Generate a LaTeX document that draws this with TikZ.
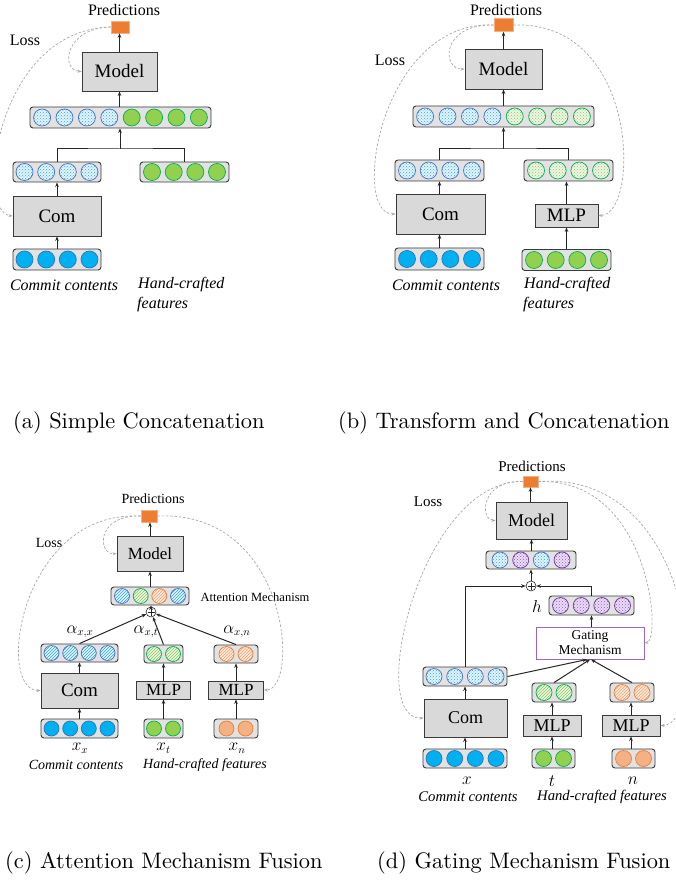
\documentclass[tikz,border=0pt]{standalone}
\usepackage{fontspec}
\newfontfamily\tnr{Liberation Serif}
\newfontfamily\capfont{lmroman10-regular.otf}
\usetikzlibrary{arrows.meta,patterns}
\definecolor{vfill}{HTML}{E2E2E2}
\definecolor{vborder}{HTML}{3A3A3A}
\definecolor{bfill}{HTML}{D9D9D9}
\definecolor{bborder}{HTML}{3A3A3A}
\definecolor{cbfill}{HTML}{00B0F0}
\definecolor{cbbd}{HTML}{2E75B6}
\definecolor{cgfill}{HTML}{92D050}
\definecolor{cgbd}{HTML}{00B050}
\definecolor{cofill}{HTML}{F4B183}
\definecolor{cobd}{HTML}{ED7D31}
\definecolor{dbbg}{HTML}{E3F4FC}
\definecolor{dbpat}{HTML}{2FA8E0}
\definecolor{dbbd}{HTML}{4472C4}
\definecolor{dgbg}{HTML}{EEF6E6}
\definecolor{dgpat}{HTML}{8CC65A}
\definecolor{obg}{HTML}{FCEDE2}
\definecolor{opat}{HTML}{F4A070}
\definecolor{pbg}{HTML}{EADDF5}
\definecolor{ppat}{HTML}{8E5CC4}
\definecolor{pbd}{HTML}{7030A0}
\definecolor{gatebd}{HTML}{9966CC}
\definecolor{porange}{HTML}{ED7D31}
\definecolor{porbd}{HTML}{F4B183}
\definecolor{lgray}{HTML}{A8A8A8}
\newcommand{\vrow}[7]{%
  \node[vec, minimum width=#4pt, minimum height=#5pt] (#1) at (#2,#3) {};
  \foreach \xx/\ss [count=\ii] in {#7}
    \node[cir=#6pt, style/.expanded=\ss] (#1-\ii) at (\xx,#3) {};
}
\begin{document}
\begin{tikzpicture}[x=1pt,y=-1pt,
  vec/.style={draw=vborder, fill=vfill, rounded corners=3pt, line width=0.9pt, inner sep=0pt},
  box/.style={draw=bborder, fill=bfill, line width=0.9pt, inner sep=0pt, font=\tnr\fontsize{#1}{#1}\selectfont},
  box/.default=19,
  cir/.style={circle, inner sep=0pt, minimum size=#1, line width=0.7pt},
  cb/.style={fill=cbfill, draw=cbbd},
  cg/.style={fill=cgfill, draw=cgbd},
  co/.style={fill=cofill, draw=cobd},
  db/.style={draw=dbbd, preaction={fill=dbbg}, pattern=crosshatch dots, pattern color=dbpat},
  dg/.style={draw=cgbd, preaction={fill=dgbg}, pattern=crosshatch dots, pattern color=dgpat},
  hb/.style={draw=dbbd, preaction={fill=dbbg}, pattern=north east lines, pattern color=dbpat},
  hg/.style={draw=cgbd, preaction={fill=dgbg}, pattern=north east lines, pattern color=dgpat},
  ho/.style={draw=cobd, preaction={fill=obg}, pattern=north east lines, pattern color=opat},
  hp/.style={draw=pbd, preaction={fill=pbg}, pattern=crosshatch dots, pattern color=ppat},
  pred/.style={fill=porange, draw=porbd, line width=0.6pt, inner sep=0pt},
  arr/.style={-{Stealth[length=4.5pt,width=3.6pt]}, line width=1pt, draw=black!85},
  ln/.style={line width=1pt, draw=black!85},
  loss/.style={draw=lgray, line width=0.7pt, dash pattern=on 2.5pt off 1.8pt, -{Stealth[length=4pt,width=3pt]}},
  txt/.style={font=\tnr\fontsize{#1}{#1}\selectfont, inner sep=0pt},
  itx/.style={font=\tnr\itshape\fontsize{#1}{#1}\selectfont, inner sep=0pt},
  mth/.style={font=\fontsize{#1}{#1}\selectfont, inner sep=0pt},
  captxt/.style={font=\capfont\fontsize{22.4}{24}\selectfont, inner sep=0pt, anchor=base west},
  oplus/.style={circle, draw=black!85, fill=white, line width=0.6pt, inner sep=0pt, minimum size=10pt,
    path picture={\draw[line width=0.6pt] ([yshift=-1.5pt]path picture bounding box.north) -- ([yshift=1.5pt]path picture bounding box.south) ([xshift=1.5pt]path picture bounding box.west) -- ([xshift=-1.5pt]path picture bounding box.east);}}
]
\useasboundingbox (0,0) rectangle (675,882);

% ================= (a) =================
\node[txt=16] (pa) at (124,10) {Predictions};
\node[pred, minimum width=18pt, minimum height=12pt] (ra) at (120,27) {};
\node[box, minimum width=75pt, minimum height=39pt] (mda) at (119.5,71.5) {Model};
\vrow{cca}{120.5}{117.5}{181}{21}{17}{42.1/db,64.5/db,86.9/db,109.3/db,131.7/cg,154.1/cg,176.5/cg,198.9/cg}
\vrow{lva}{57}{172}{88}{20}{17}{24.5/db,46.2/db,67.8/db,89.5/db}
\vrow{rva}{184.5}{172}{89}{20}{17}{152/cg,173.7/cg,195.3/cg,217/cg}
\node[box, minimum width=88pt, minimum height=40pt] (coma) at (57,216) {Com};
\vrow{ina}{57}{259.5}{88}{21}{17}{24.5/cb,46.2/cb,67.8/cb,89.5/cb}
\node[itx=16] (ta1) at (64,285) {Commit contents};
\node[itx=16, anchor=west] (ta2) at (138,285) {Hand-crafted};
\node[itx=16, anchor=west] (ta3) at (137,305) {features};
\node[txt=16] (la) at (25,40) {Loss};
\coordinate (ja) at (120,149);
\draw[arr] (ina.north) -- (coma.south);
\draw[arr] (coma.north) -- (lva.south);
\draw[ln] (lva.north) |- (ja) -| (rva.north);
\draw[arr] (ja) -- (ja |- cca.south);
\draw[arr] (cca.north -| mda.south) -- (mda.south);
\draw[arr] (mda.north) -- (mda.north |- ra.south);
\draw[loss] (ra.west) .. controls (65,28) and (60,70) .. (mda.west);
\draw[loss] (ra.west) .. controls (-5,30) and (-25,212) .. (coma.west);

% ================= (b) =================
\node[txt=16] (pb) at (506,10) {Predictions};
\node[pred, minimum width=19pt, minimum height=13pt] (rb) at (503.5,25) {};
\node[box, minimum width=77pt, minimum height=40pt] (mdb) at (503.5,69) {Model};
\vrow{ccb}{503.5}{116.5}{181}{21}{17}{425.1/db,447.5/db,469.9/db,492.3/db,514.7/dg,537.1/dg,559.5/dg,581.9/dg}
\vrow{lvb}{439.5}{170.5}{89}{21}{17}{407/db,428.7/db,450.3/db,472/db}
\vrow{rvb}{568.5}{170.5}{89}{21}{17}{536/dg,557.7/dg,579.3/dg,601/dg}
\node[box, minimum width=89pt, minimum height=40pt] (comb) at (440.5,214) {Com};
\node[box, minimum width=63pt, minimum height=23pt] (mlpb) at (566.5,215.5) {MLP};
\vrow{inb1}{439.5}{259}{89}{22}{17}{407/cb,428.7/cb,450.3/cb,472/cb}
\vrow{inb2}{566.5}{260}{89}{21}{17}{534/cg,555.7/cg,577.3/cg,599/cg}
\node[itx=16] (tb1) at (446,285) {Commit contents};
\node[itx=16, anchor=west] (tb2) at (524,285) {Hand-crafted};
\node[itx=16, anchor=west] (tb3) at (523,305) {features};
\node[txt=16] (lb) at (390,60) {Loss};
\coordinate (jb) at (503.5,149);
\draw[arr] (inb1.north) -- (inb1.north |- comb.south);
\draw[arr] (comb.north -| lvb.south) -- (lvb.south);
\draw[arr] (inb2.north) -- (mlpb.south);
\draw[arr] (mlpb.north) -- (mlpb.north |- rvb.south);
\draw[ln] (lvb.north) |- (jb) -| (rvb.north);
\draw[arr] (jb) -- (ccb.south);
\draw[arr] (ccb.north) -- (mdb.south);
\draw[arr] (mdb.north) -- (rb.south);
\draw[loss] (rb.west) .. controls (440,24) and (442,70) .. (mdb.west);
\draw[loss] (rb.west) .. controls (380,20) and (350,215) .. (comb.west);
\draw[loss] (rb.east) .. controls (640,20) and (640,215) .. (mlpb.east);

% ================= (c) =================
\node[txt=14] (pc) at (153,499) {Predictions};
\node[pred, minimum width=16pt, minimum height=12pt] (rc) at (149,516) {};
\node[box=17, minimum width=66pt, minimum height=35pt] (mdc) at (150,553.5) {Model};
\vrow{atc}{150}{596}{78}{18}{15}{122/hb,140.7/hg,159.3/ho,178/hb}
\node[txt=12.5] (amc) at (255,597) {Attention Mechanism};
\node[oplus] (plc) at (151,612) {};
\vrow{lvc}{79.5}{653}{77}{18}{15}{51.5/hb,70.2/hb,88.8/hb,107.5/hb}
\vrow{mvc}{163.5}{654}{39}{18}{15}{154/hg,173/hg}
\vrow{rvc}{236}{654}{44}{18}{15}{226.5/ho,245.5/ho}
\node[box=19, minimum width=77pt, minimum height=35pt] (comc) at (79.5,690.5) {Com};
\node[box=17, minimum width=54pt, minimum height=18pt] (mlpc1) at (163.5,690) {MLP};
\node[box=17, minimum width=55pt, minimum height=18pt] (mlpc2) at (236,690) {MLP};
\vrow{inc1}{79.5}{728.5}{77}{19}{15}{51.5/cb,70.2/cb,88.8/cb,107.5/cb}
\vrow{inc2}{163.5}{728.5}{39}{19}{15}{154/cg,173/cg}
\vrow{inc3}{236}{728.5}{44}{19}{15}{226.5/co,245.5/co}
\node[mth=16] (xc1) at (80,748) {$x_x$};
\node[mth=16] (xc2) at (163.5,748) {$x_t$};
\node[mth=16] (xc3) at (237,748) {$x_n$};
\node[itx=14] (tc1) at (76,765) {Commit contents};
\node[itx=14] (tc2) at (205,765) {Hand-crafted features};
\node[mth=16] (ac1) at (80,632) {$\alpha_{x,x}$};
\node[mth=16] (ac2) at (146,632) {$\alpha_{x,t}$};
\node[mth=16] (ac3) at (237,632) {$\alpha_{x,n}$};
\node[txt=14] (lc) at (49,543) {Loss};
\draw[arr] (inc1.north) -- (comc.south);
\draw[arr] (comc.north) -- (lvc.south);
\draw[arr] (inc2.north) -- (mlpc1.south);
\draw[arr] (mlpc1.north) -- (mvc.south);
\draw[arr] (inc3.north) -- (mlpc2.south);
\draw[arr] (mlpc2.north) -- (rvc.south);
\draw[arr] (lvc.north) -- (plc);
\draw[arr] (mvc.north) -- (plc);
\draw[arr] (rvc.north) -- (plc);
\draw[arr] (plc.north) -- (plc.north |- atc.south);
\draw[arr] (atc.north) -- (mdc.south);
\draw[arr] (mdc.north) -- (mdc.north |- rc.south);
\draw[loss] (rc.west) .. controls (95,515) and (98,555) .. (mdc.west);
\draw[loss] (rc.west) .. controls (20,510) and (-5,690) .. (comc.west);
\draw[loss] (rc.east) .. controls (290,510) and (300,690) .. (mlpc2.east);

% ================= (d) =================
\node[txt=15] (pd) at (532,466) {Predictions};
\node[pred, minimum width=15pt, minimum height=11pt] (rd) at (530.5,481.5) {};
\node[box=18, minimum width=71pt, minimum height=37pt] (mdd) at (531.5,520.5) {Model};
\vrow{tvd}{531}{560}{90}{18}{16}{500/db,520.7/hp,541.3/db,562/hp}
\node[oplus] (pld) at (531,586) {};
\vrow{hvd}{591.5}{605.5}{85}{19}{16}{560.5/hp,581.2/hp,601.8/hp,622.5/hp}
\node[mth=17] (hd) at (537,606) {$h$};
\node[draw=gatebd, fill=white, line width=0.9pt, minimum width=108pt, minimum height=32pt, align=center, font=\tnr\fontsize{13.5}{15}\selectfont, inner sep=0pt] (gd) at (590,643) {Gating\\Mechanism};
\vrow{cvd}{465}{676.5}{84}{19}{16}{434/db,454.7/db,475.3/db,496/db}
\vrow{mvd}{554}{692.5}{44}{19}{16}{544/hg,564/hg}
\vrow{rvd}{632}{692.5}{44}{19}{16}{622/ho,642/ho}
\node[box=18, minimum width=83pt, minimum height=38pt] (comd) at (465.5,718) {Com};
\node[box=18, minimum width=58pt, minimum height=21pt] (mlpd1) at (552,725.5) {MLP};
\node[box=18, minimum width=58pt, minimum height=21pt] (mlpd2) at (631,725.5) {MLP};
\vrow{ind1}{465}{758.5}{84}{19}{16}{434/cb,454.7/cb,475.3/cb,496/cb}
\vrow{ind2}{553.5}{758.5}{43}{19}{16}{543.5/cg,563.5/cg}
\vrow{ind3}{633.5}{758.5}{43}{19}{16}{623.5/co,643.5/co}
\node[mth=17] (xd1) at (467,781) {$x$};
\node[mth=17] (xd2) at (552,781) {$t$};
\node[mth=17] (xd3) at (633,781) {$n$};
\node[itx=14.7] (td1) at (468,797) {Commit contents};
\node[itx=14.7] (td2) at (602,797) {Hand-crafted features};
\node[txt=15] (ld) at (428,502) {Loss};
\draw[arr] (ind1.north) -- (ind1.north |- comd.south);
\draw[arr] (comd.north -| cvd.south) -- (cvd.south);
\draw[arr] (ind2.north -| mlpd1.south) -- (mlpd1.south);
\draw[arr] (mlpd1.north) -- (mlpd1.north |- mvd.south);
\draw[arr] (ind3.north -| mlpd2.south) -- (mlpd2.south);
\draw[arr] (mlpd2.north) -- (mlpd2.north |- rvd.south);
\draw[arr] (cvd.east) -- ([xshift=-3pt]gd.south);
\draw[arr] (mvd.north) -- (gd.south);
\draw[arr] (rvd.north) -- ([xshift=1pt]gd.south);
\draw[arr] (gd.north -| hvd.south) -- (hvd.south);
\draw[arr] (hvd.north) |- (pld.east);
\draw[arr] (cvd.north) |- (pld.west);
\draw[arr] (pld.north) -- (pld.north |- tvd.south);
\draw[arr] (tvd.north -| mdd.south) -- (mdd.south);
\draw[arr] (mdd.north -| rd.south) -- (rd.south);
\draw[loss] (rd.west) .. controls (480,480) and (480,520) .. (mdd.west);
\draw[loss] (rd.west) .. controls (420,480) and (365,720) .. (comd.west);
\draw[loss] (rd.east) .. controls (650,478) and (662,640) .. (gd.east);
\draw[loss] (rd.east) .. controls (700,470) and (710,725) .. (mlpd2.east);

% ================= captions =================
\node[captxt] (capa) at (13,428) {(a) Simple Concatenation};
\node[captxt] (capb) at (338,428) {(b) Transform and Concatenation};
\node[captxt] (capc) at (5,868) {(c) Attention Mechanism Fusion};
\node[captxt] (capd) at (377,868) {(d) Gating Mechanism Fusion};
\end{tikzpicture}
\end{document}
